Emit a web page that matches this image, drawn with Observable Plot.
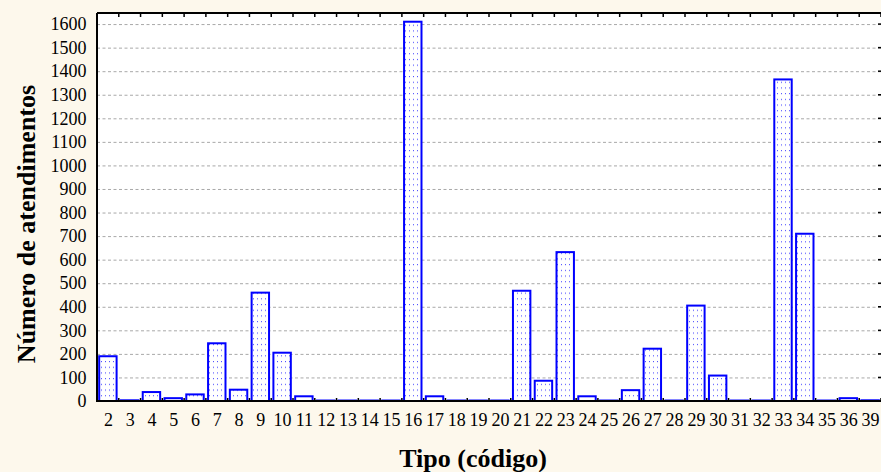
<!DOCTYPE html>
<html><head><meta charset="utf-8">
<script src="https://cdn.jsdelivr.net/npm/d3@7"></script>
<script src="https://cdn.jsdelivr.net/npm/@observablehq/plot@0.6"></script>
<style>
body{margin:0;background:#fdf8ec;}
svg, svg text { font-family: "Liberation Serif", "Times New Roman", serif !important; }
</style>
</head><body><div id="chart"></div>
<script>
const categories = ["2","3","4","5","6","7","8","9","10","11","12","13","14","15","16","17","18","19","20","21","22","23","24","25","26","27","28","29","30","31","32","33","34","35","36","39"];
const values = [190,3,38,12,28,245,48,460,205,20,2,2,2,2,1610,20,2,2,2,468,86,632,20,2,46,222,2,405,108,2,2,1365,710,2,12,3];
const yTicks = [0,100,200,300,400,500,600,700,800,900,1000,1100,1200,1300,1400,1500,1600];
const data = categories.map((c, i) => ({tipo: c, n: values[i]}));

function frameTicks(index, scales, values, dims) {
  const g = d3.create("svg:g");
  const x = scales.x, y = scales.y;
  const step = x(categories[1]) - x(categories[0]);
  const bw = step * 0.8;
  const gap = (step - bw) / 2;
  const top = dims.marginTop, bottom = dims.height - dims.marginBottom;
  const left = dims.marginLeft, right = dims.width - dims.marginRight;
  const bounds = categories.map(c => x(c) - gap).concat([x(categories[categories.length-1]) + bw + gap]);
  bounds.forEach(b => {
    g.append("line").attr("x1", b).attr("x2", b).attr("y1", top).attr("y2", top + 4).attr("stroke", "black").attr("stroke-width", 1.5);
    g.append("line").attr("x1", b).attr("x2", b).attr("y1", bottom).attr("y2", bottom - 3).attr("stroke", "black").attr("stroke-width", 1.5);
  });
  yTicks.forEach(t => {
    g.append("line").attr("x1", right - 3).attr("x2", right).attr("y1", y(t)).attr("y2", y(t)).attr("stroke", "black").attr("stroke-width", 1.5);
  });
  g.append("line").attr("x1", left).attr("x2", right).attr("y1", top).attr("y2", top).attr("stroke", "black").attr("stroke-width", 2);
  g.append("line").attr("x1", left).attr("x2", left).attr("y1", top).attr("y2", bottom + 1).attr("stroke", "black").attr("stroke-width", 2);
  g.append("line").attr("x1", left).attr("x2", right).attr("y1", bottom).attr("y2", bottom).attr("stroke", "black").attr("stroke-width", 2.2);
  return g.node();
}

const chart = Plot.plot({
  width: 881, height: 472,
  marginLeft: 97, marginRight: 0, marginTop: 13, marginBottom: 71,
  style: {background: "#fdf8ec", fontSize: "18px", color: "black"},
  x: {domain: categories, paddingInner: 0.2, paddingOuter: 0.1, round: false, label: null},
  y: {domain: [0, 1647], label: null},
  marks: [
    Plot.frame({fill: "white", stroke: "none"}),
    Plot.gridY(yTicks.filter(t => t > 0), {stroke: "#a8a8a8", strokeOpacity: 1, strokeWidth: 1, strokeDasharray: "3,2.5"}),
    Plot.barY(data, {x: "tipo", y: "n", fill: "url(#dots)", stroke: "#0000ff", strokeWidth: 2}),
    Plot.axisY(yTicks, {tickSize: 0, tickPadding: 11, fontSize: 18, tickFormat: d => String(d), label: null}),
    Plot.axisX({tickSize: 0, tickPadding: 12, fontSize: 18, label: null}),
    frameTicks
  ]
});

const svg = d3.select(chart);
const defs = svg.insert("defs", ":first-child");
const pat = defs.append("pattern").attr("id", "dots").attr("patternUnits", "userSpaceOnUse").attr("width", 4).attr("height", 5.7);
pat.append("rect").attr("width", 4).attr("height", 5.7).attr("fill", "white");
pat.append("rect").attr("x", 1).attr("y", 2).attr("width", 1).attr("height", 1).attr("fill", "#3a3aff");

svg.append("text").text("Tipo (código)")
  .attr("x", 473).attr("y", 467).attr("text-anchor", "middle")
  .attr("font-weight", "bold").attr("font-size", 26).attr("fill", "black");
svg.append("text").text("Número de atendimentos")
  .attr("transform", "translate(35,224) rotate(-90)").attr("text-anchor", "middle")
  .attr("font-weight", "bold").attr("font-size", 26).attr("fill", "black");

document.getElementById("chart").appendChild(chart);
</script>
</body></html>
